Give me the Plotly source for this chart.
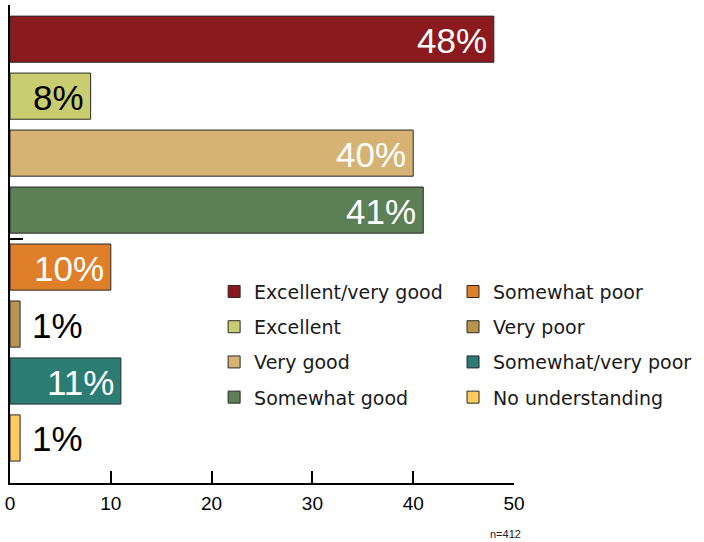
import plotly.graph_objects as go

categories = ["Excellent/very good", "Excellent", "Very good", "Somewhat good",
              "Somewhat poor", "Very poor", "Somewhat/very poor", "No understanding"]
values = [48, 8, 40, 41, 10, 1, 11, 1]
colors = ["#8B1A1E", "#C9CD6F", "#D6B273", "#5C7F56",
          "#DF7F29", "#B8954F", "#2B7C73", "#FFCB5E"]
label_colors = ["white", "black", "white", "white", "white", "black", "white", "black"]
x_ticks = [0, 10, 20, 30, 40, 50]
note = "n=412"

fig = go.Figure()
for i, (cat, val, col) in enumerate(zip(categories, values, colors)):
    fig.add_trace(go.Bar(
        x=[val], y=[i], orientation="h", width=0.81, name=cat,
        marker=dict(color=col, line=dict(color="#2a2a2a", width=1)),
        legend="legend" if i < 4 else "legend2",
        legendgroup=cat, showlegend=True, hoverinfo="skip",
    ))

annotations = []
for i, (val, lc) in enumerate(zip(values, label_colors)):
    inside = val >= 5
    annotations.append(dict(
        x=val, y=i, xref="x", yref="y", text=f"{val}%", showarrow=False,
        xanchor="right" if inside else "left", xshift=-5 if inside else 10,
        yanchor="middle", yshift=-1,
        font=dict(family="Liberation Sans, Arial, sans-serif", size=35, color=lc),
    ))
annotations.append(dict(
    x=1.0, y=-0.107, xref="paper", yref="paper", text=note, showarrow=False,
    xanchor="right", yanchor="middle", xshift=9,
    font=dict(family="Liberation Sans, Arial, sans-serif", size=11, color="#222"),
))

legend_font = dict(family="DejaVu Sans, Liberation Sans, sans-serif", size=19, color="#1a1a1a")
fig.update_layout(
    width=704, height=542,
    margin=dict(l=8, r=190, t=5, b=59),
    plot_bgcolor="white", paper_bgcolor="white",
    barmode="overlay",
    showlegend=True,
    legend=dict(x=0.405, y=0.44, xanchor="left", yanchor="top", font=legend_font,
                tracegroupgap=7.5, bgcolor="rgba(0,0,0,0)", itemclick=False),
    legend2=dict(x=0.879, y=0.44, xanchor="left", yanchor="top", font=legend_font,
                 tracegroupgap=7.5, bgcolor="rgba(0,0,0,0)", itemclick=False),
    annotations=annotations,
    xaxis=dict(range=[0, 50], tickvals=x_ticks, ticks="inside", ticklen=12, tickwidth=1.5,
               tickcolor="black", showline=True, linecolor="black", linewidth=1.5,
               showgrid=False, zeroline=False, ticklabelstandoff=2,
               tickfont=dict(family="Liberation Sans, Arial, sans-serif",
                             size=19, color="black")),
    yaxis=dict(range=[7.79, -0.6], tickvals=[3.5], ticks="inside", ticklen=13, tickwidth=1.5,
               tickcolor="black", showticklabels=False, showline=True, linecolor="black",
               linewidth=1.5, showgrid=False, zeroline=False),
)

fig.write_html("out.html")
